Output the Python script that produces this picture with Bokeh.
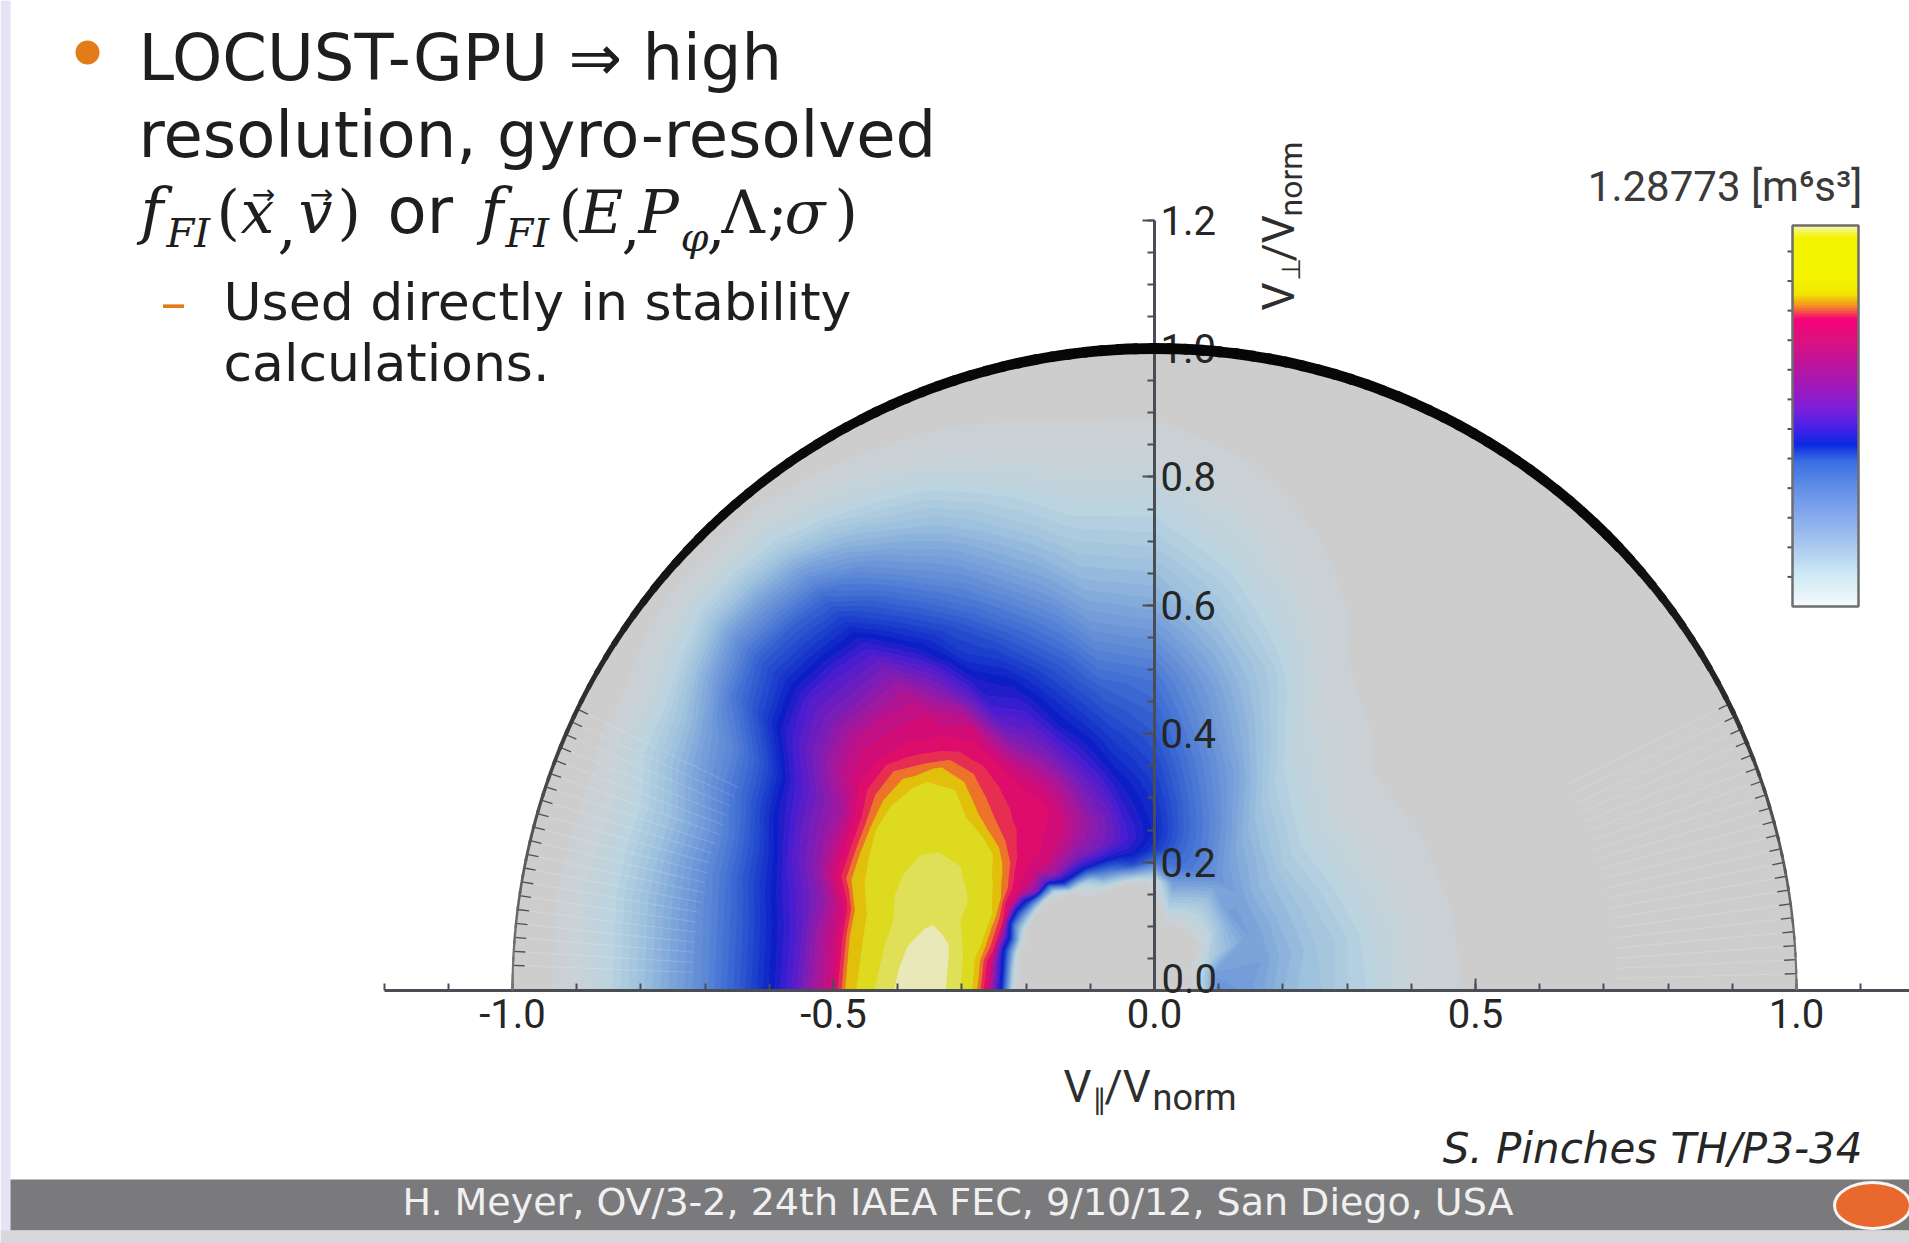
import numpy as np
from bokeh.plotting import figure
from bokeh.models import (LinearAxis, FixedTicker, Label, ColorBar, LinearColorMapper,
                          Range1d, PrintfTickFormatter, ColumnDataSource)
from bokeh.embed import file_html
from bokeh.resources import INLINE

# ---------------- page geometry (pixels -> data units) ----------------
W, H = 1909, 1243
OX, OY, UNIT = 1154.0, 990.0, 642.0   # pixel position of (0,0) and pixels per unit


def X(px):
    return (px - OX) / UNIT


def Y(py):
    return (OY - py) / UNIT


# ---------------- data ----------------
# distribution level (0 = empty, 10 = peak) on a polar grid: speed |v|/v_norm x pitch angle
RADII = [0.02, 0.06, 0.10, 0.17, 0.20, 0.22, 0.24, 0.26, 0.28, 0.30, 0.33, 0.36, 0.40, 0.44,
         0.48, 0.50, 0.53, 0.56, 0.60, 0.65, 0.70, 0.75, 0.80, 0.85, 0.90, 0.95, 1.00]
PITCH_DEG = [0, 15, 30, 45, 60, 70, 80, 90, 100, 105, 110, 115, 120, 125, 130, 135, 140, 145,
             150, 155, 160, 165, 170, 180]

F_P000 = [0, 0.2, 3.4, 2.7, 2.3, 2.1, 2.0, 1.9, 1.7, 1.5, 1.3, 1.0, 0.6, 0.4, 0.3, 0.25, 0.2, 0.15, 0.1, 0, 0, 0, 0, 0, 0, 0, 0]
F_P015 = [0, 0.2, 3.0, 2.9, 2.5, 2.3, 2.1, 1.9, 1.8, 1.6, 1.3, 1.0, 0.7, 0.45, 0.3, 0.25, 0.2, 0.15, 0.1, 0, 0, 0, 0, 0, 0, 0, 0]
F_P030 = [0, 0.1, 1.5, 2.9, 2.6, 2.3, 2.1, 1.9, 1.7, 1.5, 1.2, 0.9, 0.6, 0.4, 0.3, 0.25, 0.2, 0.1, 0, 0, 0, 0, 0, 0, 0, 0, 0]
F_P045 = [0, 0, 0.3, 3.0, 2.7, 2.4, 2.2, 2.0, 1.7, 1.5, 1.2, 0.9, 0.6, 0.4, 0.3, 0.25, 0.2, 0.1, 0, 0, 0, 0, 0, 0, 0, 0, 0]
F_P060 = [0, 0, 0.2, 2.2, 3.2, 3.0, 2.8, 2.6, 2.4, 2.2, 1.9, 1.6, 1.3, 1.0, 0.75, 0.65, 0.5, 0.4, 0.3, 0.2, 0.1, 0, 0, 0, 0, 0, 0]
F_P070 = [0, 0, 0, 2.6, 3.8, 3.8, 3.7, 3.6, 3.5, 3.3, 3.1, 2.9, 2.5, 2.2, 1.9, 1.8, 1.6, 1.3, 1.0, 0.7, 0.45, 0.3, 0.15, 0, 0, 0, 0]
F_P080 = [0, 0, 0, 3.0, 4.2, 4.4, 4.5, 4.5, 4.4, 4.3, 4.1, 3.9, 3.6, 3.3, 3.0, 2.8, 2.5, 2.2, 1.8, 1.4, 1.0, 0.7, 0.45, 0.25, 0.1, 0, 0]
F_P090 = [0, 0, 0, 0.5, 4.0, 5.3, 5.6, 5.6, 5.5, 5.4, 5.2, 5.0, 4.7, 4.4, 4.1, 3.9, 3.5, 3.1, 2.6, 2.1, 1.6, 1.2, 0.8, 0.5, 0.25, 0.1, 0]
F_P100 = [0, 0, 0, 0, 5.0, 6.0, 6.3, 6.3, 6.2, 6.1, 5.9, 5.6, 5.3, 4.9, 4.5, 4.2, 3.8, 3.4, 2.9, 2.3, 1.8, 1.3, 0.9, 0.5, 0.3, 0.1, 0]
F_P105 = [0, 0, 0, 0, 4.5, 6.0, 6.6, 6.8, 6.8, 6.7, 6.5, 6.2, 5.8, 5.4, 5.0, 4.8, 4.5, 4.1, 3.6, 2.9, 2.3, 1.7, 1.2, 0.7, 0.4, 0.1, 0]
F_P110 = [0, 0, 0, 0, 4.0, 6.0, 6.9, 7.1, 7.2, 7.1, 7.0, 6.8, 6.4, 5.9, 5.6, 5.4, 5.1, 4.7, 4.2, 3.5, 2.8, 2.2, 1.6, 1.0, 0.5, 0.2, 0]
F_P115 = [0, 0, 0, 0, 3.5, 6.0, 7.0, 7.3, 7.5, 7.6, 7.6, 7.5, 7.1, 6.7, 6.3, 6.1, 5.8, 5.4, 4.9, 4.2, 3.5, 2.8, 2.1, 1.4, 0.7, 0.25, 0]
F_P120 = [0, 0, 0, 0, 2.0, 5.8, 7.0, 7.5, 7.8, 8.0, 8.1, 8.0, 7.7, 7.2, 6.7, 6.4, 6.1, 5.9, 5.4, 5.0, 4.2, 3.4, 2.6, 1.7, 0.9, 0.35, 0]
F_P125 = [0, 0, 0, 0, 1.0, 5.8, 7.2, 7.7, 8.0, 8.1, 8.2, 8.2, 8.2, 8.1, 8.0, 7.9, 7.6, 7.1, 6.7, 5.9, 5.1, 4.3, 3.4, 2.3, 1.2, 0.45, 0]
F_P130 = [0, 0, 0, 0, 0.3, 5.5, 7.3, 7.9, 8.1, 8.2, 8.3, 8.4, 8.5, 8.6, 8.4, 8.2, 8.0, 7.9, 7.6, 7.0, 6.2, 5.3, 4.3, 3.0, 1.6, 0.6, 0]
F_P135 = [0, 0, 0, 0, 0, 1.5, 6.5, 7.8, 8.1, 8.3, 8.6, 8.7, 8.9, 9.1, 9.0, 8.6, 8.2, 8.0, 7.7, 7.0, 6.4, 5.4, 4.5, 3.2, 1.8, 0.6, 0]
F_P140 = [0, 0, 0, 0, 0, 0.5, 7.0, 8.0, 8.2, 8.7, 9.1, 9.3, 9.3, 9.3, 9.2, 9.0, 8.6, 8.1, 7.8, 7.1, 6.5, 5.5, 4.6, 3.3, 1.8, 0.6, 0]
F_P145 = [0, 0, 0, 0, 0, 0.3, 5.0, 7.9, 8.6, 9.0, 9.3, 9.4, 9.4, 9.4, 9.3, 9.1, 8.6, 8.1, 7.6, 6.9, 6.1, 5.0, 4.0, 2.6, 1.3, 0.45, 0]
F_P150 = [0, 0, 0, 0, 0, 0.2, 4.0, 7.8, 8.9, 9.2, 9.4, 9.5, 9.5, 9.4, 9.2, 9.1, 8.3, 7.5, 7.0, 6.2, 4.9, 3.8, 3.0, 1.9, 0.9, 0.3, 0]
F_P155 = [0, 0, 0, 0, 0, 0.2, 3.5, 8.3, 9.1, 9.3, 9.5, 9.6, 9.6, 9.4, 9.2, 9.0, 8.1, 7.4, 6.8, 5.8, 4.5, 3.5, 2.6, 1.7, 0.9, 0.3, 0]
F_P160 = [0, 0, 0, 0, 0.1, 0.5, 5.5, 8.4, 9.1, 9.3, 9.5, 9.6, 9.6, 9.4, 9.1, 8.9, 8.0, 7.2, 6.5, 5.2, 4.0, 3.0, 2.1, 1.3, 0.6, 0.2, 0]
F_P165 = [0, 0, 0, 0, 0, 0.3, 5.0, 8.4, 9.1, 9.3, 9.7, 9.8, 9.6, 9.3, 8.95, 8.1, 7.3, 6.8, 6.1, 5.0, 3.9, 3.0, 2.1, 1.3, 0.65, 0.2, 0]
F_P170 = [0, 0, 0, 0, 0, 0.6, 5.6, 8.1, 9.0, 9.4, 9.8, 9.9, 9.7, 9.3, 8.9, 8.0, 7.4, 6.6, 5.8, 4.7, 3.7, 2.9, 2.1, 1.3, 0.7, 0.25, 0]
F_P180 = [0, 0, 0, 0, 0, 0.5, 5.8, 8.0, 9.0, 9.4, 9.8, 10.0, 9.8, 9.4, 8.9, 8.0, 7.4, 6.6, 5.7, 4.6, 3.6, 2.8, 2.0, 1.2, 0.6, 0.2, 0]

X_TICKS = [-1.0, -0.5, 0.0, 0.5, 1.0]
X_MINOR = [-1.2, -1.1, -1.0, -0.9, -0.8, -0.7, -0.6, -0.5, -0.4, -0.3, -0.2, -0.1,
           0.0, 0.1, 0.2, 0.3, 0.4, 0.5, 0.6, 0.7, 0.8, 0.9, 1.0, 1.1]
Y_TICKS = [0.0, 0.2, 0.4, 0.6, 0.8, 1.0, 1.2]
Y_MINOR = [round(0.05 * i, 2) for i in range(25)]
CBAR_MAX = 1.28773
CBAR_TICKS = [0.1, 0.2, 0.3, 0.4, 0.5, 0.6, 0.7, 0.8, 0.9, 1.0, 1.1, 1.2]
V_EDGE = 1.0   # |v| = v_norm boundary

# ---------------- colours (style) ----------------
Z_ANCH = [0.0, 0.6, 1.2, 2.0, 2.8, 3.6, 4.4, 5.2, 5.8, 6.4, 7.0, 7.5, 8.0, 8.35, 8.75, 9.05, 9.5, 10.0]
C_ANCH = ["#cdcdcd", "#c8d2d7", "#bcd4e0", "#9ec2de", "#7ca4da", "#5c88d6", "#3a68d2", "#1c40cc",
          "#0c1ec6", "#4a1ed0", "#7a1eb8", "#a8169a", "#d20c76", "#e40c64", "#ee7a26", "#dcd600",
          "#dede40", "#e8e8b8"]
CB_POS = [0.0, 0.08, 0.16, 0.24, 0.32, 0.38, 0.425, 0.47, 0.52, 0.58, 0.65, 0.71, 0.755, 0.79,
          0.82, 0.86, 0.97, 1.0]
CB_COL = ["#f4fafc", "#d0eaf4", "#a8c8f0", "#84a8ec", "#5c8ce6", "#3a6ee2", "#0a28e2", "#4a20e8",
          "#7c20da", "#a018b8", "#c41496", "#e0107c", "#f8007a", "#f49020", "#f2e400", "#f4f400",
          "#f4f400", "#f8f8b0"]


def _rgb(h):
    return [int(h[i:i + 2], 16) for i in (1, 3, 5)]


def ramp(stops, cols, v):
    rgb = np.array([_rgb(c) for c in cols], float)
    out = [np.interp(v, stops, rgb[:, k]) for k in range(3)]
    return "#%02x%02x%02x" % tuple(int(round(c)) for c in out)


LEVELS = [round(v, 2) for v in np.arange(0.3, 8.2, 0.2)] + [8.35, 8.6, 8.85, 9.1, 9.45, 9.75, 11.0]
band_colors = [ramp(Z_ANCH, C_ANCH, min(0.5 * (a + b), 10.0)) for a, b in zip(LEVELS[:-1], LEVELS[1:])]
line_colors = band_colors + [band_colors[-1]]
cb_palette = [ramp(CB_POS, CB_COL, t) for t in np.linspace(0, 1, 256)]

# ---------------- figure ----------------
p = figure(width=W, height=H, x_range=Range1d(X(0), X(W)), y_range=Range1d(Y(H), Y(0)),
           output_backend="svg", toolbar_location=None, x_axis_location=None,
           y_axis_location=None, min_border=0, outline_line_color=None,
           background_fill_color="white", border_fill_color="white")
p.xgrid.visible = False
p.ygrid.visible = False

# slide decorations
p.quad(left=X(0), right=X(10), bottom=Y(H), top=Y(0), fill_color="#e4e4f4", line_color=None)
p.quad(left=X(10), right=X(W), bottom=Y(1230), top=Y(1179), fill_color="#7a7a7c", line_color=None)
p.quad(left=X(0), right=X(W), bottom=Y(H), top=Y(1230), fill_color="#d8d8dc", line_color=None)

# velocity-space half disc
p.wedge(x=0, y=0, radius=V_EDGE, start_angle=0, end_angle=np.pi,
        fill_color="#cdcdcd", line_color=None)

TH = np.deg2rad(np.array(PITCH_DEG, float))[:, None]
RR = np.array(RADII, float)[None, :]
XX = RR * np.cos(TH)
YY = RR * np.sin(TH)
ZZ = np.array([F_P000, F_P015, F_P030, F_P045, F_P060, F_P070, F_P080, F_P090, F_P100, F_P105,
               F_P110, F_P115, F_P120, F_P125, F_P130, F_P135, F_P140, F_P145, F_P150, F_P155,
               F_P160, F_P165, F_P170, F_P180], float)
p.contour(XX, YY, ZZ, LEVELS, fill_color=band_colors, line_color=line_colors, line_width=1.2)

# faint mesh streaks and comb near the rim
comb = np.deg2rad(np.r_[np.arange(1.5, 27, 1.25), np.arange(154, 178.6, 1.25)])
p.segment(x0=0.72 * np.cos(comb), y0=0.72 * np.sin(comb), x1=0.98 * np.cos(comb),
          y1=0.98 * np.sin(comb), line_color="white", line_alpha=0.16, line_width=1)
p.segment(x0=0.982 * np.cos(comb), y0=0.982 * np.sin(comb), x1=V_EDGE * np.cos(comb),
          y1=V_EDGE * np.sin(comb), line_color="#505050", line_width=1.3)

# rim with tapering thickness
RIM_ANG = [0, 8, 20, 30, 45, 90, 135, 150, 160, 172, 180]
RIM_W = [2.0, 2.5, 3.5, 6.0, 10.0, 11.0, 9.0, 5.0, 3.5, 2.5, 2.0]
RIM_G = [120, 100, 70, 35, 10, 6, 12, 40, 70, 100, 120]
edges = np.arange(0, 180.01, 1.5)
a0 = edges[:-1]
a1 = np.minimum(edges[1:] + 0.4, 180)
mid = 0.5 * (a0 + a1)
rim_src = ColumnDataSource(dict(
    a0=np.deg2rad(a0), a1=np.deg2rad(a1), w=np.interp(mid, RIM_ANG, RIM_W),
    c=["#%02x%02x%02x" % (int(g), int(g), int(g)) for g in np.interp(mid, RIM_ANG, RIM_G)]))
rim = p.arc(x=0, y=0, radius=V_EDGE, start_angle="a0", end_angle="a1", line_width="w",
            line_color="c", source=rim_src)
rim.level = "overlay"

# ---------------- axes ----------------
xax = LinearAxis(fixed_location=0, ticker=FixedTicker(ticks=X_TICKS, minor_ticks=X_MINOR),
                 bounds=(-1.2, X(W)), formatter=PrintfTickFormatter(format="%.1f"))
yax = LinearAxis(fixed_location=0, ticker=FixedTicker(ticks=Y_TICKS, minor_ticks=Y_MINOR),
                 bounds=(0, 1.2), formatter=PrintfTickFormatter(format="%.1f"),
                 major_label_overrides={0: ""})
for ax in (xax, yax):
    ax.axis_line_color = "#4a4e54"
    ax.axis_line_width = 3
    ax.major_tick_line_color = "#4a4e54"
    ax.minor_tick_line_color = "#4a4e54"
    ax.major_tick_line_width = 2
    ax.minor_tick_line_width = 2
    ax.major_tick_in = 12
    ax.major_tick_out = 0
    ax.minor_tick_in = 7
    ax.minor_tick_out = 0
    ax.major_label_text_font = "Roboto"
    ax.major_label_text_font_size = "40px"
    ax.major_label_text_color = "#262626"
xax.major_label_standoff = 8
yax.major_label_standoff = 6
p.add_layout(xax, "below")
p.add_layout(yax, "right")

DESC = {"DejaVu Sans": 0.236, "DejaVu Serif": 0.236, "Roboto": 0.265}


def lab(txt, px, py, size, font="DejaVu Sans", color="#1e1e1e", style="normal",
        align="left", baseline="alphabetic", angle=0.0):
    """px, py: pixel position of the text start on its baseline."""
    tb = baseline
    if baseline == "alphabetic":
        tb = "bottom"
        d = DESC.get(font, 0.24) * size
        if angle == 0.0:
            py = py + d
        else:
            px = px + d
    p.add_layout(Label(x=X(px), y=Y(py), text=txt, text_font=font, text_font_size="%dpx" % size,
                       text_font_style=style, text_color=color, text_align=align,
                       text_baseline=tb, angle=angle))


lab("0.0", 1161, 978, 40, font="Roboto", color="#262626", baseline="middle")

# axis titles
TC = "#2e2e2e"
for txt, px, py, fs, font in [("V", 1063, 1101, 44, "Roboto"),
                              ("\u2225", 1092, 1109, 28, "DejaVu Sans"),
                              ("/V", 1104, 1101, 44, "Roboto"),
                              ("norm", 1152, 1109, 36, "Roboto")]:
    lab(txt, px, py, fs, font=font, color=TC)
for txt, px, py, fs, font in [("V", 1293, 310, 44, "Roboto"),
                              ("\u22a5", 1299, 280, 26, "DejaVu Sans"),
                              ("/V", 1293, 261, 44, "Roboto"),
                              ("norm", 1301, 216, 32, "Roboto")]:
    lab(txt, px, py, fs, font=font, color=TC, angle=np.pi / 2)

# ---------------- colour bar ----------------
CB_LEFT, CB_BOTTOM, CB_W, CB_H = 1792, 606, 66, 381
cb = ColorBar(color_mapper=LinearColorMapper(palette=cb_palette, low=0, high=CBAR_MAX),
              location=(CB_LEFT, H - CB_BOTTOM), width=CB_W, height=CB_H, padding=0, margin=0,
              ticker=FixedTicker(ticks=[]), major_label_text_font_size="0px",
              major_tick_line_color=None, minor_tick_line_color=None,
              bar_line_color="#6e6e6e", bar_line_width=2.5,
              background_fill_alpha=0, border_line_color=None, label_standoff=0)
p.add_layout(cb, "center")
# colour-bar value ticks on its left edge
cb_ty = [Y(CB_BOTTOM - v / CBAR_MAX * CB_H) for v in CBAR_TICKS]
p.segment(x0=[X(CB_LEFT - 5)] * len(cb_ty), y0=cb_ty, x1=[X(CB_LEFT + 5)] * len(cb_ty), y1=cb_ty,
          line_color="#555555", line_width=2)
lab("1.28773 [m\u2076s\u00b3]", 1862, 199, 42, font="Roboto", color="#3a3a3a", align="right")

# ---------------- slide text ----------------
INK = "#1e1e1e"
ORANGE = "#e27c16"
p.circle(x=X(87), y=Y(52), radius=12 / UNIT, fill_color=ORANGE, line_color=None)
lab("LOCUST-GPU \u21d2 high", 138, 79, 64)
lab("resolution, gyro-resolved", 138, 156, 64)

MB = 232
math_pieces = [("f", 140, MB, 62, "italic"), ("FI", 166, MB + 14, 40, "italic"),
               ("(", 216, MB, 60, "normal"), ("x", 240, MB, 60, "italic"),
               (",", 277, MB, 60, "normal"), ("v", 298, MB, 60, "italic"),
               (")", 337, MB, 60, "normal"),
               ("f", 480, MB, 62, "italic"), ("FI", 505, MB + 14, 40, "italic"),
               ("(", 558, MB, 60, "normal"), ("E", 579, MB, 60, "italic"),
               (",", 621, MB, 60, "normal"), ("P", 638, MB, 60, "italic"),
               ("\u03c6", 680, MB + 18, 40, "italic"), (",", 706, MB, 60, "normal"),
               ("\u039b", 721, MB, 60, "normal"), (";", 767, MB, 60, "normal"),
               ("\u03c3", 784, MB, 60, "italic"), (")", 834, MB, 60, "normal")]
for txt, px, py, fs, st in math_pieces:
    lab(txt, px, py, fs, font="DejaVu Serif", style=st)
for cx in (263, 321):
    lab("\u2192", cx, 194, 28, align="center", baseline="middle")
lab("or", 387, MB, 64)

lab("\u2013", 160, 319, 52, color=ORANGE)
lab("Used directly in stability", 223, 319, 52)
lab("calculations.", 223, 380, 52)

lab("S. Pinches TH/P3-34", 1862, 1163, 42, color="#262626", style="italic", align="right")
lab("H. Meyer, OV/3-2, 24th IAEA FEC, 9/10/12, San Diego, USA", 402, 1215, 38,
    color="#f0f0f0")
p.ellipse(x=X(1872), y=Y(1205), width=76 / UNIT, height=46 / UNIT, fill_color="#e8682e",
          line_color="#f6f6f6", line_width=3)

open("out.html", "w").write(file_html(p, INLINE))
